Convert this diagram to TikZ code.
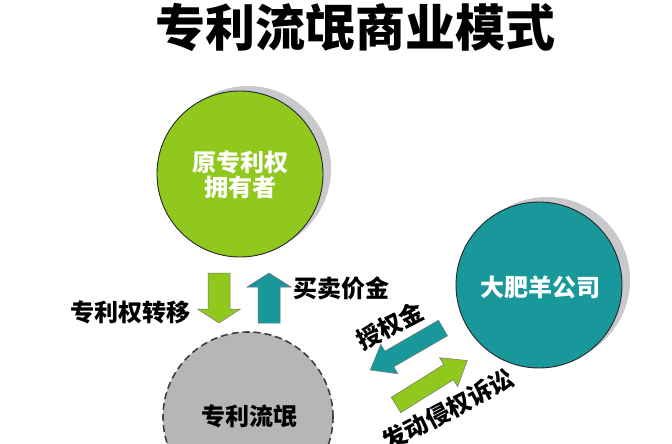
\documentclass[tikz,border=0pt]{standalone}
\usepackage{fontspec}
\newfontfamily\cjk{Noto Sans CJK SC}
\usetikzlibrary{shapes.geometric}
\definecolor{limeg}{RGB}{145,200,30}
\definecolor{tealc}{RGB}{25,152,155}
\definecolor{grayc}{RGB}{182,182,182}
\definecolor{shadowc}{RGB}{200,200,205}
\tikzset{
  bigcircle/.style={circle,minimum size=166pt,inner sep=0pt,draw=black!85,line width=0.9pt},
  shadowcircle/.style={circle,minimum size=166pt,inner sep=0pt,fill=shadowc},
  intext/.style={text=white,font=\cjk\bfseries\fontsize{24pt}{26pt}\selectfont,align=center},
  lbl/.style={text=black,font=\cjk\bfseries\fontsize{24pt}{26pt}\selectfont,inner sep=0pt},
  arrowline/.style={draw=black!55,line width=0.5pt}
}
% \blockarr{x}{y}{angle}{length}{head length}{shaft half}{head half}{color}
\newcommand{\blockarr}[8]{%
  \begin{scope}[shift={(#1,#2)},rotate=#3]
    \filldraw[arrowline,fill=#8] (0,-#6) -- ({#4-#5},-#6) -- ({#4-#5},-#7) -- (#4,0)
      -- ({#4-#5},#7) -- ({#4-#5},#6) -- (0,#6) -- cycle;
  \end{scope}}
\begin{document}
\begin{tikzpicture}[x=1pt,y=1pt]
\useasboundingbox (0,0) rectangle (672,-444);
\clip (0,0) rectangle (672,-444);
\fill[white] (0,0) rectangle (672,-444);
% title
\node[font=\cjk\bfseries\fontsize{50pt}{52pt}\selectfont,inner sep=0pt] (title) at (355,-28) {专利流氓商业模式};
% shadows
\node[shadowcircle] (owners) at (248,-169) {};
\node[shadowcircle] (fats) at (547,-280) {};
% circles
\node[bigcircle,fill=limeg] (owner) at (240,-174) {};
\node[intext] (ownert) at (240,-175) {原专利权\\[-1pt]拥有者};
\node[bigcircle,fill=tealc] (fat) at (539,-285) {};
\node[intext] (fatt) at (540,-287) {大肥羊公司};
\node[circle,minimum size=170pt,inner sep=0pt,fill=grayc,draw=black!75,line width=1.6pt,dash pattern=on 7pt off 4pt] (troll) at (248,-417) {};
\node[text=black,font=\cjk\bfseries\fontsize{24pt}{26pt}\selectfont] (trollt) at (249,-416) {专利流氓};
% vertical arrows
\blockarr{219}{-273}{-90}{50}{14}{11}{21.5}{limeg}
\blockarr{269}{-323}{90}{50}{14}{11}{22}{tealc}
% diagonal arrows
\blockarr{443}{-328}{210}{84}{22}{9}{17}{tealc}
\blockarr{396}{-405}{32}{84}{22}{9}{17}{limeg}
% labels
\node[lbl] (l1) at (130,-312) {专利权转移};
\node[lbl] (l2) at (341,-288) {买卖价金};
\node[lbl,rotate=27] (l3) at (390,-326) {授权金};
\node[lbl,rotate=28] (l4) at (448,-410) {发动侵权诉讼};
\end{tikzpicture}
\end{document}
